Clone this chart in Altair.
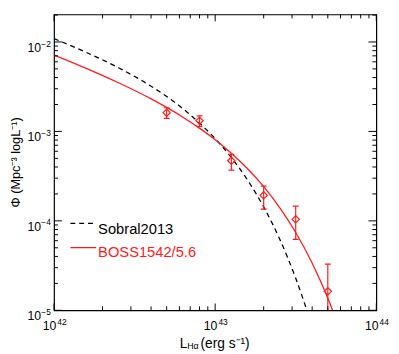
import altair as alt
import pandas as pd

# ---- data ----
sobral_L = [1.0e42, 1.585e42, 2.512e42, 3.981e42, 6.310e42, 7.943e42, 1.0e43,
            1.259e43, 1.585e43, 1.778e43, 1.995e43, 2.239e43, 2.512e43, 2.818e43,
            3.162e43, 3.548e43, 3.981e43]
sobral_phi = [1.089e-2, 7.656e-3, 5.152e-3, 3.221e-3, 1.795e-3, 1.256e-3, 8.299e-4,
              5.117e-4, 2.877e-4, 2.070e-4, 1.442e-4, 9.70e-5, 6.281e-5, 3.88e-5,
              2.280e-5, 1.265e-5, 6.592e-6]

boss_L = [1.0e42, 1.585e42, 2.512e42, 3.981e42, 6.310e42, 7.943e42, 1.0e43,
          1.259e43, 1.585e43, 1.995e43, 2.512e43, 3.162e43, 3.981e43, 5.012e43,
          5.495e43]
boss_phi = [7.145e-3, 5.070e-3, 3.499e-3, 2.323e-3, 1.442e-3, 1.096e-3, 8.072e-4,
            5.715e-4, 3.846e-4, 2.427e-4, 1.409e-4, 7.413e-5, 3.428e-5, 1.352e-5,
            8.81e-6]

pts_L = [5.0e42, 8.0e42, 1.26e43, 2.0e43, 3.16e43, 5.0e43]
pts_phi = [1.62e-3, 1.32e-3, 4.7e-4, 1.93e-4, 1.04e-4, 1.63e-5]
pts_hi = [1.84e-3, 1.49e-3, 5.55e-4, 2.44e-4, 1.46e-4, 3.28e-5]
pts_lo = [1.40e-3, 1.14e-3, 3.70e-4, 1.35e-4, 6.2e-5, 5.0e-6]

x_major = [1e42, 1e43, 1e44]
x_exp = ["42", "43", "44"]
x_minor = [2e42, 3e42, 4e42, 5e42, 6e42, 7e42, 8e42, 9e42,
           2e43, 3e43, 4e43, 5e43, 6e43, 7e43, 8e43, 9e43]
y_major = [1e-5, 1e-4, 1e-3, 1e-2]
y_exp = ["\u22125", "\u22124", "\u22123", "\u22122"]
y_minor = [2e-5, 3e-5, 4e-5, 5e-5, 6e-5, 7e-5, 8e-5, 9e-5,
           2e-4, 3e-4, 4e-4, 5e-4, 6e-4, 7e-4, 8e-4, 9e-4,
           2e-3, 3e-3, 4e-3, 5e-3, 6e-3, 7e-3, 8e-3, 9e-3, 2e-2]

legend_labels = ["Sobral2013", "BOSS1542/5.6"]
y_title = ["\u03a6 (Mpc\u207b\u00b3 logL\u207b\u00b9)"]
x_title = ["L", "H\u03b1", "(erg s\u207b\u00b9)"]

# ---- styling ----
W, H = 329, 302
RED = "#ff1a1a"
FONT = "Liberation Sans"

xs = alt.Scale(type="log", domain=[1e42, 1e44], nice=False)
ys = alt.Scale(type="log", domain=[1e-5, 2.03e-2], nice=False)


def X(f):
    return alt.X(f, type="quantitative", scale=xs, axis=None)


def Y(f):
    return alt.Y(f, type="quantitative", scale=ys, axis=None)


df_s = pd.DataFrame({"L": sobral_L, "phi": sobral_phi})
df_b = pd.DataFrame({"L": boss_L, "phi": boss_phi})
df_p = pd.DataFrame({"L": pts_L, "phi": pts_phi, "hi": pts_hi, "lo": pts_lo})
df_xmaj = pd.DataFrame({"v": x_major, "e": x_exp})
df_xmin = pd.DataFrame({"v": x_minor})
df_ymaj = pd.DataFrame({"v": y_major, "e": y_exp})
df_ymin = pd.DataFrame({"v": y_minor})
one = pd.DataFrame({"k": [0]})

sobral = alt.Chart(df_s).mark_line(color="black", strokeDash=[5, 4], strokeWidth=1.3,
                                   clip=True, interpolate="monotone").encode(x=X("L"), y=Y("phi"))
boss = alt.Chart(df_b).mark_line(color=RED, strokeWidth=1.3, clip=True,
                                 interpolate="monotone").encode(x=X("L"), y=Y("phi"))
err = alt.Chart(df_p).mark_rule(color=RED, strokeWidth=1.2, clip=True).encode(
    x=X("L"), y=Y("lo"), y2="hi")
cap_hi = alt.Chart(df_p).mark_rule(color=RED, strokeWidth=1.2, clip=True, xOffset=-3, x2Offset=3).encode(
    x=X("L"), x2="L", y=Y("hi"))
cap_lo = alt.Chart(df_p).mark_rule(color=RED, strokeWidth=1.2, clip=True, xOffset=-3, x2Offset=3).encode(
    x=X("L"), x2="L", y=Y("lo"))
pts = alt.Chart(df_p).mark_point(shape="diamond", filled=False, size=56, strokeWidth=1.2,
                                 color=RED, opacity=1).encode(x=X("L"), y=Y("phi"))

tick_style = dict(color="black", strokeWidth=1)
xt = [
    alt.Chart(df_xmaj).mark_rule(**tick_style).encode(x=X("v"), y=alt.value(H), y2=alt.value(H - 7)),
    alt.Chart(df_xmaj).mark_rule(**tick_style).encode(x=X("v"), y=alt.value(0), y2=alt.value(7)),
    alt.Chart(df_xmin).mark_rule(**tick_style).encode(x=X("v"), y=alt.value(H), y2=alt.value(H - 4)),
    alt.Chart(df_xmin).mark_rule(**tick_style).encode(x=X("v"), y=alt.value(0), y2=alt.value(4)),
]
yt = [
    alt.Chart(df_ymaj).mark_rule(**tick_style).encode(y=Y("v"), x=alt.value(0), x2=alt.value(8)),
    alt.Chart(df_ymaj).mark_rule(**tick_style).encode(y=Y("v"), x=alt.value(W), x2=alt.value(W - 8)),
    alt.Chart(df_ymin).mark_rule(**tick_style).encode(y=Y("v"), x=alt.value(0), x2=alt.value(4)),
    alt.Chart(df_ymin).mark_rule(**tick_style).encode(y=Y("v"), x=alt.value(W), x2=alt.value(W - 4)),
]

lab = dict(font=FONT, color="black")
x_lab10 = alt.Chart(df_xmaj).mark_text(text="10", align="right", dx=2.3, fontSize=12.5, **lab).encode(
    x=X("v"), y=alt.value(H + 16.5))
x_labe = alt.Chart(df_xmaj).mark_text(align="left", dx=3.3, fontSize=8.5, **lab).encode(
    x=X("v"), y=alt.value(H + 11.5), text="e:N")
y_lab10 = alt.Chart(df_ymaj).mark_text(text="10", align="right", dy=6, fontSize=12.5, **lab).encode(
    x=alt.value(-13.3), y=Y("v"))
y_labe = alt.Chart(df_ymaj).mark_text(align="left", dy=1.7, fontSize=8.5, **lab).encode(
    x=alt.value(-13), y=Y("v"), text="e:N")

ytitle = alt.Chart(pd.DataFrame({"t": y_title})).mark_text(
    angle=270, align="center", baseline="middle", fontSize=13, **lab).encode(
    x=alt.value(-39), y=alt.value(H / 2), text="t:N")
xt1 = alt.Chart(pd.DataFrame({"t": [x_title[0]]})).mark_text(align="left", fontSize=14, **lab).encode(
    x=alt.value(128.3), y=alt.value(H + 34.3), text="t:N")
xt2 = alt.Chart(pd.DataFrame({"t": [x_title[1]]})).mark_text(align="left", fontSize=9, **lab).encode(
    x=alt.value(136.0), y=alt.value(H + 36.5), text="t:N")
xt3 = alt.Chart(pd.DataFrame({"t": [x_title[2]]})).mark_text(align="left", fontSize=14, **lab).encode(
    x=alt.value(149.5), y=alt.value(H + 34.3), text="t:N")

leg_l1 = alt.Chart(one).mark_rule(color="black", strokeDash=[5, 4], strokeWidth=1.3).encode(
    x=alt.value(16.7), x2=alt.value(41.7), y=alt.value(213.3))
leg_l2 = alt.Chart(one).mark_rule(color=RED, strokeWidth=1.3).encode(
    x=alt.value(16.7), x2=alt.value(43), y=alt.value(238))
leg_t1 = alt.Chart(pd.DataFrame({"t": [legend_labels[0]]})).mark_text(
    align="left", fontSize=15, font=FONT, color="black").encode(
    x=alt.value(45), y=alt.value(219), text="t:N")
leg_t2 = alt.Chart(pd.DataFrame({"t": [legend_labels[1]]})).mark_text(
    align="left", fontSize=15, font=FONT, color=RED).encode(
    x=alt.value(45), y=alt.value(243), text="t:N")

chart = alt.layer(
    sobral, boss, err, cap_hi, cap_lo, pts, *xt, *yt,
    x_lab10, x_labe, y_lab10, y_labe, ytitle, xt1, xt2, xt3,
    leg_l1, leg_l2, leg_t1, leg_t2,
).properties(
    width=W, height=H,
    autosize=alt.AutoSizeParams(type="none"),
    padding={"left": 47, "top": 3, "right": 15, "bottom": 41},
).configure_view(stroke="black", strokeWidth=1.2)

chart.save("out.html", embed_options={"renderer": "svg", "actions": False})
